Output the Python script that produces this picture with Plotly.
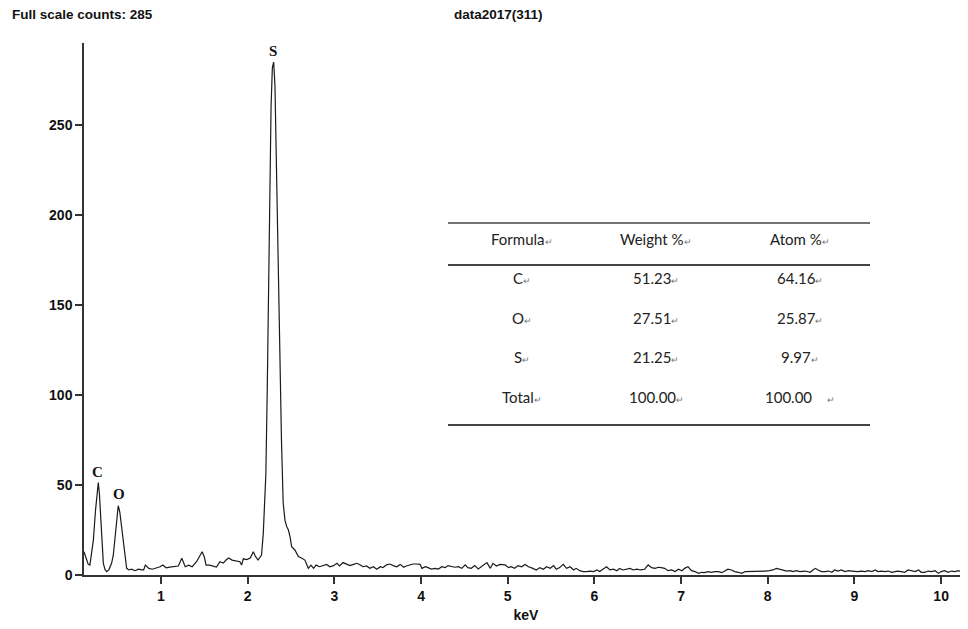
import plotly.graph_objects as go

# ---------------- data ----------------
energy_co = [0.112, 0.13, 0.16, 0.18, 0.20, 0.22, 0.245, 0.265, 0.277, 0.29,
             0.305, 0.32, 0.335, 0.355, 0.374, 0.40, 0.43, 0.45, 0.47, 0.49,
             0.507, 0.525, 0.547, 0.565, 0.585, 0.604]
counts_co = [12.9, 10, 6, 5.5, 12, 19.4, 36, 48, 51.3, 45,
             32, 18, 6.5, 3, 1.9, 3, 6.5, 11, 19.4, 31,
             38.5, 35, 26.9, 18, 10.2, 3.7]

energy_mid = [0.63, 0.66, 0.70, 0.74, 0.78, 0.80, 0.82, 0.86, 0.90, 0.94,
              0.99, 1.02, 1.06, 1.10, 1.15, 1.20, 1.24, 1.28, 1.32, 1.36,
              1.41, 1.445, 1.475, 1.50, 1.52, 1.56, 1.60, 1.64, 1.68, 1.72,
              1.75, 1.78, 1.82, 1.86, 1.91, 1.93, 1.95, 1.99, 2.03, 2.065,
              2.09, 2.12, 2.16]
counts_mid = [2.8, 3.2, 2.4, 3.2, 2.8, 2.8, 5.5, 3.7, 3.2, 3.7,
              4.6, 5.5, 4.0, 4.4, 4.6, 5.0, 9.3, 4.6, 5.5, 4.6,
              7.4, 10, 12.9, 10, 5.5, 5.5, 5.0, 4.4, 7.4, 6.6,
              8.3, 9.4, 8.3, 8.0, 7.4, 5.5, 9.0, 8.6, 9.4, 12.9,
              10.3, 8.3, 11.1]

energy_s = [2.18, 2.20, 2.21, 2.226, 2.245, 2.257, 2.27, 2.285, 2.30, 2.315,
            2.326, 2.353, 2.373, 2.39, 2.41, 2.43, 2.45, 2.47, 2.49, 2.507,
            2.545, 2.585, 2.62, 2.66, 2.70, 2.73, 2.76, 2.79]
counts_s = [23, 41.7, 56, 103, 171, 219, 260, 282, 285, 272,
            242, 182, 130, 75, 40, 30.5, 27, 25, 21, 15.7,
            13.9, 10.3, 9.4, 8.3, 3.7, 5.5, 3.7, 5.5]

energy_b1 = [2.83, 2.87, 2.91, 2.95, 2.99, 3.03, 3.06, 3.10, 3.14, 3.18,
             3.22, 3.26, 3.30, 3.33, 3.37, 3.41, 3.45, 3.49, 3.53, 3.56,
             3.60, 3.64, 3.68, 3.72, 3.76, 3.80, 3.83, 3.87, 3.91, 3.95,
             3.99, 4.01, 4.05, 4.08, 4.12, 4.16, 4.20, 4.24, 4.28, 4.31,
             4.35, 4.39, 4.43, 4.47, 4.51, 4.54, 4.58, 4.62, 4.66, 4.72,
             4.76, 4.80, 4.83, 4.87, 4.91, 4.97, 5.01, 5.04, 5.08, 5.12,
             5.16, 5.20, 5.24]
counts_b1 = [4.6, 5.2, 5.9, 4.6, 5.2, 6.5, 5.0, 6.9, 6.1, 5.2,
             5.9, 6.5, 5.6, 4.6, 5.0, 3.7, 4.6, 3.2, 4.6, 4.1,
             5.6, 6.1, 5.2, 4.6, 5.9, 4.3, 5.0, 5.6, 6.1, 6.1,
             5.9, 3.7, 4.6, 4.1, 3.3, 3.7, 3.3, 4.6, 4.1, 5.2,
             4.6, 4.3, 4.6, 3.7, 5.6, 4.1, 3.7, 5.2, 3.3, 5.6,
             6.9, 3.7, 6.5, 5.0, 5.9, 5.6, 4.1, 4.6, 3.7, 5.2,
             4.6, 5.9, 4.6]

energy_b2 = [5.29, 5.33, 5.37, 5.41, 5.45, 5.49, 5.53, 5.56, 5.60, 5.64,
             5.68, 5.72, 5.76, 5.79, 5.83, 5.87, 5.91, 5.95, 5.99, 6.03,
             6.06, 6.10, 6.14, 6.18, 6.22, 6.26, 6.29, 6.33, 6.37, 6.41,
             6.45, 6.49, 6.53, 6.58, 6.62, 6.66, 6.70, 6.74, 6.77, 6.81,
             6.85, 6.89, 6.93, 6.97, 7.01, 7.04, 7.08, 7.12, 7.16, 7.20,
             7.24, 7.27, 7.31, 7.35, 7.39, 7.43, 7.47, 7.51, 7.54, 7.58,
             7.62, 7.66, 7.70]
counts_b2 = [3.7, 2.8, 4.1, 3.2, 4.6, 3.7, 5.2, 3.2, 4.1, 5.9,
             3.7, 4.6, 2.8, 3.7, 2.4, 1.9, 1.9, 2.2, 1.9, 2.8,
             1.9, 3.2, 4.6, 2.8, 3.2, 2.4, 3.7, 2.8, 3.2, 3.7,
             2.8, 3.3, 2.8, 3.2, 5.6, 4.1, 3.7, 4.3, 4.1, 3.7,
             2.4, 2.8, 1.9, 3.2, 2.4, 3.7, 4.6, 2.4, 1.9, 0.9,
             1.5, 1.3, 1.9, 1.5, 1.9, 1.9, 1.3, 2.4, 3.2, 2.8,
             1.9, 1.5, 0.9]

energy_b3 = [7.74, 7.79, 7.85, 7.91, 7.97, 8.02, 8.06, 8.10, 8.14, 8.18,
             8.22, 8.26, 8.29, 8.33, 8.37, 8.43, 8.49, 8.52, 8.55, 8.58,
             8.62, 8.66, 8.70, 8.74, 8.77, 8.81, 8.85, 8.89, 8.93, 8.97,
             9.01, 9.04, 9.08, 9.12, 9.16, 9.20, 9.24, 9.27, 9.31, 9.35,
             9.39, 9.43, 9.47, 9.50, 9.54, 9.58, 9.62, 9.66, 9.70, 9.74,
             9.77, 9.81, 9.85, 9.89, 9.93, 9.97, 10.00, 10.04, 10.08, 10.12,
             10.16, 10.20, 10.24, 10.27, 10.31]
counts_b3 = [1.9, 1.9, 2.2, 1.9, 2.2, 2.4, 2.8, 3.7, 3.2, 2.4,
             2.2, 2.4, 1.9, 2.4, 1.9, 2.2, 1.5, 2.8, 3.7, 2.8,
             1.9, 1.9, 2.2, 1.5, 2.8, 2.2, 2.8, 1.9, 2.4, 2.2,
             1.9, 1.9, 2.2, 1.9, 2.4, 1.9, 2.8, 1.9, 2.2, 1.9,
             2.2, 1.5, 1.9, 2.2, 1.9, 1.5, 2.8, 2.2, 1.9, 2.8,
             1.5, 1.5, 2.2, 1.9, 2.4, 0.9, 1.9, 2.4, 1.5, 2.2,
             1.9, 2.4, 1.5, 2.8, 0.9]

peak_labels = ["C", "O", "S"]
peak_kev = [0.268, 0.515, 2.29]
peak_counts = [51.3, 38.9, 285]

x_tick_vals = [1, 2, 3, 4, 5, 6, 7, 8, 9, 10]
y_tick_vals = [0, 50, 100, 150, 200, 250]

table_header = ["Formula", "Weight %", "Atom %"]
table_formula = ["C", "O", "S", "Total"]
table_weight = ["51.23", "27.51", "21.25", "100.00"]
table_atom = ["64.16", "25.87", "9.97", "100.00"]

title_left = "Full scale counts: 285"
title_center = "data2017(311)"
x_title = "keV"

# ---------------- figure ----------------
energy = energy_co + energy_mid + energy_s + energy_b1 + energy_b2 + energy_b3
counts = counts_co + counts_mid + counts_s + counts_b1 + counts_b2 + counts_b3

# the page body has an 8px margin: lay the figure out in page pixels minus 8
OFF = 8
W, H = 968 - OFF, 629 - OFF
L, R, T, B = 84 - OFF, 0, 43 - OFF, 629 - 575
PW, PH = W - L - R, H - T - B


def px_x(px):
    return (px - OFF - L) / PW


def px_y(py):
    return (H - B - (py - OFF)) / PH


fig = go.Figure()
fig.add_trace(go.Scatter(x=energy, y=counts, mode="lines",
                         line=dict(color="#1a1a1a", width=1.2),
                         hoverinfo="skip", showlegend=False))

axis_font = dict(family="Liberation Sans, Arial, sans-serif", size=14,
                 color="#111", weight="bold")

annotations = []
for lab, ex, cy in zip(peak_labels, peak_kev, peak_counts):
    annotations.append(dict(x=ex, y=cy, xref="x", yref="y", text=lab,
                            showarrow=False, yanchor="bottom", yshift=1,
                            font=dict(family="Liberation Serif, Times New Roman, serif",
                                      size=15, color="#111", weight="bold")))

annotations.append(dict(x=px_x(10), y=px_y(14), xref="paper", yref="paper",
                        text="<b>" + title_left + "</b>", showarrow=False,
                        xanchor="left", yanchor="middle",
                        font=dict(family="Liberation Sans, Arial", size=13.5, color="#111")))
annotations.append(dict(x=px_x(498), y=px_y(14), xref="paper", yref="paper",
                        text="<b>" + title_center + "</b>", showarrow=False,
                        xanchor="center", yanchor="middle",
                        font=dict(family="Liberation Sans, Arial", size=13.5, color="#111")))

# table
ret = "<span style='font-size:9px;color:#777'>\u21b5</span>"
tfont = dict(family="Lato, Open Sans, sans-serif", size=15, color="#222")
col_x = [522, 656, 800]
header_y = 239
row_y = [278, 318, 357, 397]
for cx, txt in zip(col_x, table_header):
    annotations.append(dict(x=px_x(cx), y=px_y(header_y), xref="paper", yref="paper",
                            text=txt + ret, showarrow=False, xanchor="center",
                            yanchor="middle", font=tfont))
for i, ry in enumerate(row_y):
    atom_txt = table_atom[i] + ("&nbsp;&nbsp;&nbsp;&nbsp;" if i == 3 else "")
    for cx, txt in zip(col_x, [table_formula[i], table_weight[i], atom_txt]):
        annotations.append(dict(x=px_x(cx), y=px_y(ry), xref="paper", yref="paper",
                                text=txt + ret, showarrow=False, xanchor="center",
                                yanchor="middle", font=tfont))

shapes = []
for ly, lw in [(223, 1.5), (265, 2), (425, 2)]:
    shapes.append(dict(type="line", xref="paper", yref="paper",
                       x0=px_x(448), x1=px_x(870), y0=px_y(ly), y1=px_y(ly),
                       line=dict(color="#444", width=lw)))

fig.update_layout(
    width=W, height=H,
    margin=dict(l=L, r=R, t=T, b=B),
    paper_bgcolor="white", plot_bgcolor="white",
    annotations=annotations, shapes=shapes,
    xaxis=dict(range=[0.112, 10.31], tickvals=x_tick_vals,
               ticks="outside", ticklen=7, tickwidth=1.5, tickcolor="#333",
               showline=True, linecolor="#333", linewidth=1.5,
               showgrid=False, zeroline=False,
               tickfont=axis_font,
               title=dict(text=x_title, font=axis_font, standoff=8)),
    yaxis=dict(range=[0, 295.6], tickvals=y_tick_vals,
               ticks="outside", ticklen=7, tickwidth=1.5, tickcolor="#333",
               showline=True, linecolor="#333", linewidth=1.5,
               showgrid=False, zeroline=False,
               tickfont=axis_font),
)

fig.write_html("out.html")
